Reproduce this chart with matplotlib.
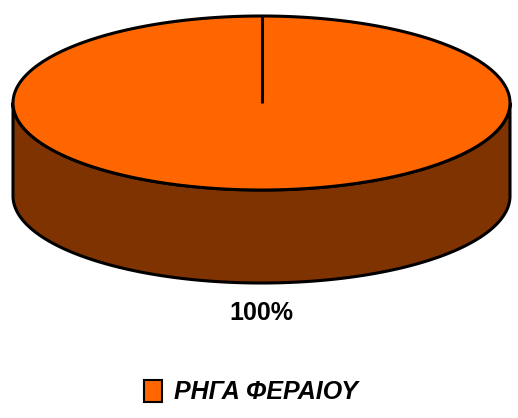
import numpy as np
import matplotlib
matplotlib.use("Agg")
import matplotlib.pyplot as plt
import matplotlib.patches as mpatches

# Pie data
categories = ["ΡΗΓΑ ΦΕΡΑΙΟΥ"]
values = [100]
top_colors = ["#FF6600"]
side_colors = ["#7F3300"]

W, H = 518, 418
fig = plt.figure(figsize=(W / 100, H / 100), dpi=100)
ax = fig.add_axes([0, 0, 1, 1])
ax.set_xlim(0, W)
ax.set_ylim(H, 0)
ax.axis("off")

# Ellipse geometry of the tilted pie (screen units, y down)
cx, cy = 261.5, 103
a, b = 248.5, 87
depth = 93


def ell(t, dy=0.0):
    return cx + a * np.cos(t), cy + dy - b * np.sin(t)


fracs = np.array(values, dtype=float) / sum(values)
start = np.pi / 2
edges = start - 2 * np.pi * np.concatenate([[0], np.cumsum(fracs)])

# Side wall (front half only)
for i in range(len(values)):
    t0, t1 = edges[i + 1], edges[i]
    lo, hi = max(t0, -np.pi), min(t1, 0.0)
    if lo < hi:
        t = np.linspace(lo, hi, 200)
        x1, y1 = ell(t)
        x2, y2 = ell(t[::-1], depth)
        side = mpatches.Polygon(np.column_stack([np.r_[x1, x2], np.r_[y1, y2]]),
                                closed=True, facecolor=side_colors[i],
                                edgecolor="black", lw=2.2, joinstyle="round")
        ax.add_patch(side)

# Top faces
for i in range(len(values)):
    t = np.linspace(edges[i + 1], edges[i], 400)
    x, y = ell(t)
    if fracs[i] < 1:
        x, y = np.r_[cx, x], np.r_[cy, y]
    top = mpatches.Polygon(np.column_stack([x, y]), closed=True,
                           facecolor=top_colors[i], edgecolor="black",
                           lw=2.2, joinstyle="round")
    ax.add_patch(top)

# Radius lines at slice boundaries
for e in edges[:-1]:
    ex, ey = ell(e)
    ax.plot([cx, ex], [cy, ey], color="black", lw=2.2, solid_capstyle="butt")

# Percentage labels under the slices
for i, v in enumerate(values):
    mid = (edges[i] + edges[i + 1]) / 2 if fracs[i] < 1 else -np.pi / 2
    lx = cx + a * np.cos(mid)
    ax.text(lx, 313, f"{fracs[i] * 100:.0f}%", ha="center", va="center",
            fontsize=18, fontweight="bold", family="Liberation Sans")

handles = [mpatches.Patch(facecolor=c, edgecolor="black", lw=1.5, label=l)
           for c, l in zip(top_colors, categories)]
ax.legend(handles=handles, loc="center", bbox_to_anchor=(251 / W, 1 - 392 / H),
          frameon=False, handlelength=0.7, handleheight=1.0, handletextpad=0.5,
          prop={"family": "Liberation Sans", "weight": "bold",
                "style": "italic", "size": 18})

fig.savefig("out.png", dpi=100)
